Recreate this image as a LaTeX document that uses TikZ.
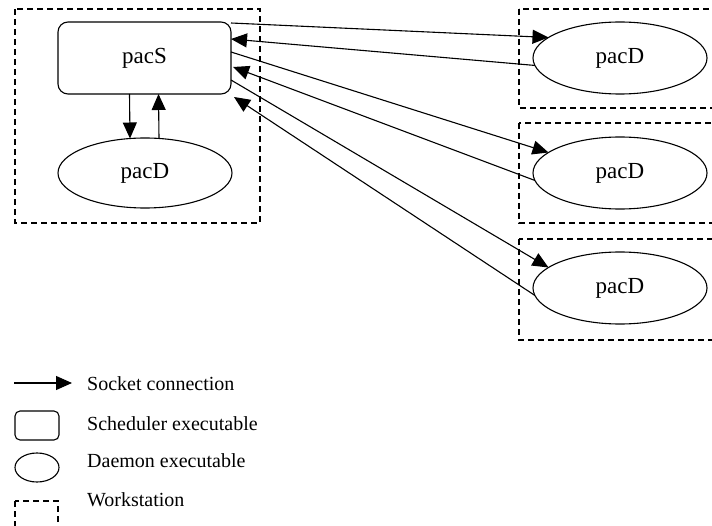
\documentclass[tikz,border=0pt]{standalone}
\usepackage{fontspec}
\setmainfont{Liberation Serif}
\usetikzlibrary{arrows.meta,shapes.geometric}
\begin{document}
\begin{tikzpicture}[x=1pt,y=-1pt,
  ws/.style={draw,line width=1.5pt,dash pattern=on 6pt off 4pt},
  sched/.style={draw,line width=1.1pt,rounded corners=10pt,inner sep=0pt,outer sep=0pt,font=\fontsize{23}{26}\selectfont},
  daemon/.style={draw,line width=1.1pt,ellipse,inner sep=0pt,outer sep=0pt,font=\fontsize{23}{26}\selectfont},
  conn/.style={line width=1.1pt,-{Triangle[length=16pt,width=14pt]}},
  lbl/.style={anchor=base west,inner sep=0pt,font=\fontsize{20}{23}\selectfont}]
\useasboundingbox (0,0) rectangle (712,526);
\clip (0,0) rectangle (712,526);
% workstations
\draw[ws] (15,9) rectangle (260,223);
\draw[ws] (519,9) rectangle (730,108);
\draw[ws] (519,123) rectangle (730,223);
\draw[ws] (519,239) rectangle (730,340);
% nodes
\node[sched,minimum width=173pt,minimum height=72pt] (S) at (144.5,58) {pacS};
\node[daemon,minimum width=174pt,minimum height=70pt] (D0) at (145,173) {pacD};
\node[daemon,minimum width=174pt,minimum height=72pt] (D1) at (620,58) {pacD};
\node[daemon,minimum width=174pt,minimum height=72pt] (D2) at (620,173) {pacD};
\node[daemon,minimum width=174pt,minimum height=72pt] (D3) at (620,288) {pacD};
% local connections
\draw[conn] ([xshift=-15pt]S.south) -- ([xshift=-15pt,yshift=-0.5pt]D0.north);
\draw[conn] ([xshift=14pt,yshift=-0.5pt]D0.north) -- ([xshift=14pt]S.south);
% remote connections
\draw[conn] ([yshift=-1pt]S.north east) -- (D1.164);
\draw[conn] (D1.185) -- ([yshift=-17pt]S.north east);
\draw[conn] ([yshift=6pt]S.east) -- (D2.164);
\draw[conn] (D2.185) -- ([xshift=2pt,yshift=-9pt]S.east);
\draw[conn] ([yshift=-22pt]S.east) -- (D3.164);
\draw[conn] (D3.185) -- ([xshift=3pt,yshift=-3pt]S.south east);
% legend
\coordinate (la) at (14,383);
\coordinate (lb) at (72,383);
\draw[conn] (la) -- (lb);
\node[lbl] (t1) at (87,391) {Socket connection};
\draw[line width=1.1pt,rounded corners=5pt] (15,411) rectangle (59,440);
\node[lbl] (t2) at (87,430) {Scheduler executable};
\draw[line width=1.1pt] (37,467.5) ellipse [x radius=22, y radius=14.5];
\node[lbl] (t3) at (87,467) {Daemon executable};
\draw[ws] (15,501) rectangle (58,540);
\node[lbl] (t4) at (87,506) {Workstation};
\end{tikzpicture}
\end{document}
